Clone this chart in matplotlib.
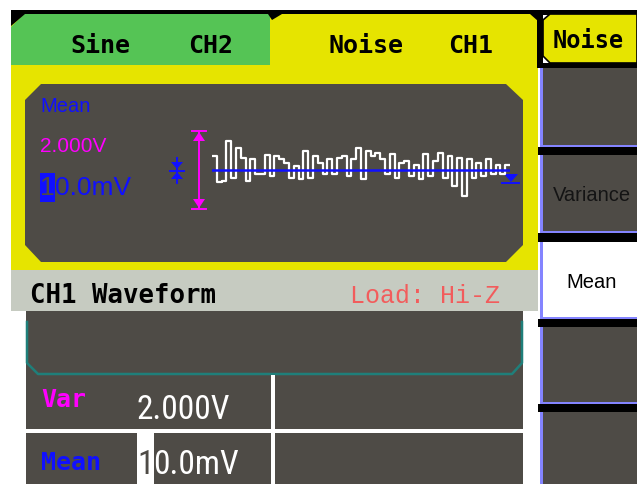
import numpy as np
import matplotlib
matplotlib.use("Agg")
import matplotlib.pyplot as plt
from matplotlib.patches import Polygon, Rectangle
from matplotlib import font_manager as fm

# ---------------- data ----------------
tab_left = ["Sine", "CH2"]
tab_right = ["Noise", "CH1"]
menu_title = "Noise"
menu_items = ["", "Variance", "Mean", "", ""]
screen_labels = ["Mean", "2.000V", "10.0mV"]
param_names = ["Var", "Mean"]
param_values = ["2.000V", "10.0mV"]
status_left = "CH1 Waveform"
status_right = "Load: Hi-Z"
mean_volts = 0.01
# noise samples (V)
noise_values = [0.36, -0.31, -0.28, 0.74, -0.21, 0.56, 0.31, -0.28, 0.28, -0.10,
                -0.10, 0.38, -0.15, 0.36, 0.28, 0.18, -0.21, 0.10, -0.23, 0.49,
                -0.21, 0.36, 0.18, -0.10, 0.28, -0.10, 0.31, 0.36, -0.15, 0.28,
                0.56, -0.23, 0.49, 0.36, 0.44, 0.28, -0.10, 0.41, -0.21, 0.18,
                0.23, -0.15, 0.13, -0.23, 0.41, -0.15, 0.23, 0.44, -0.21, 0.36,
                -0.41, 0.31, -0.67, 0.28, -0.21, 0.18, -0.15, 0.28, -0.10, 0.13,
                -0.10, 0.13]

# ---------------- styles ----------------
YEL = "#e6e400"
GRN = "#55c455"
DARK = "#4e4b46"
GRAY = "#c6cbc1"
TEAL = "#1f7f7a"
MAG = "#ff00ff"
BLUE = "#1010ff"
RED = "#f25c5c"
LAV = "#8484ff"


def has_font(name):
    try:
        fm.findfont(fm.FontProperties(family=name), fallback_to_default=False)
        return True
    except Exception:
        return False


NARROW = None
for cand in ["Liberation Sans Narrow", "DejaVu Sans Condensed", "Roboto Condensed",
             "Open Sans Condensed", "Noto Sans Condensed", "Arial Narrow"]:
    if has_font(cand):
        NARROW = cand
        break
if NARROW is None:
    NARROW, BIG = "Liberation Sans", 20.5
else:
    BIG = 24

MONO = "DejaVu Sans Mono"
SANS = "Liberation Sans"
LMONO = "Liberation Mono"

W, H = 637, 484
fig = plt.figure(figsize=(W / 100, H / 100), dpi=100)
fig.patch.set_facecolor("white")
ax = fig.add_axes([0, 0, 1, 1])
ax.set_xlim(0, W)
ax.set_ylim(H, 0)
ax.axis("off")
renderer = fig.canvas.get_renderer()


def poly(pts, fc, ec="none", lw=0, z=1):
    ax.add_patch(Polygon(pts, closed=True, fc=fc, ec=ec, lw=lw, zorder=z))


def rect(x0, y0, x1, y1, fc, z=1):
    ax.add_patch(Rectangle((x0, y0), x1 - x0, y1 - y0, fc=fc, ec="none", zorder=z))


def text_width(s, **kw):
    t = ax.text(0, 0, s, **kw)
    w = t.get_window_extent(renderer).width
    t.remove()
    return w


def cursor_text(x, y, s, color, cur_color, box_color, box_y, **kw):
    """value text whose first digit is highlighted by a cursor box"""
    full = text_width(s, **kw)
    rest = text_width(s[1:], **kw)
    adv = full - rest
    rect(x, box_y[0], x + adv, box_y[1], box_color, z=4)
    ax.text(x, y, s[0], color=cur_color, zorder=6, **kw)
    ax.text(x + adv, y, s[1:], color=color, zorder=5, **kw)


# top black band
rect(11, 10, 637, 15, "black")
# yellow frame
rect(11, 14, 538, 270, YEL)
# green tab
poly([(11, 27), (24, 14), (270, 14), (270, 65), (11, 65)], GRN, z=2)
poly([(11, 14), (25, 14), (11, 26)], "black", z=2)
poly([(268, 14), (282, 14), (272, 20)], "black", z=2)
poly([(530, 14), (538, 14), (538, 21)], "black", z=2)

# tab texts
ax.text(70, 53, tab_left[0], family=MONO, weight="bold", fontsize=18, color="black", zorder=5)
ax.text(188, 53, tab_left[1], family=MONO, weight="bold", fontsize=18, color="black", zorder=5)
ax.text(329, 53, tab_right[0], family=MONO, weight="bold", fontsize=18, color="black", zorder=5)
ax.text(448, 53, tab_right[1], family=MONO, weight="bold", fontsize=18, color="black", zorder=5)

# inner screen
poly([(41, 84), (506, 84), (523, 100), (523, 245), (506, 262), (41, 262), (25, 245), (25, 100)],
     DARK, z=2)

ax.text(40, 112, screen_labels[0], family=SANS, fontsize=14.5, color=BLUE, zorder=5)
ax.text(40, 152, screen_labels[1], family=SANS, fontsize=15, color=MAG, zorder=5)
cursor_text(40, 195, screen_labels[2], BLUE, DARK, BLUE, (173, 202), family=SANS, fontsize=19)

# blue mean-offset symbol
ax.plot([177, 177], [158, 183], color=BLUE, lw=1.4, zorder=5)
poly([(171, 162), (183, 162), (177, 169)], BLUE, z=5)
poly([(171, 179), (183, 179), (177, 172)], BLUE, z=5)
ax.plot([170, 184], [170.5, 170.5], color=BLUE, lw=1.4, zorder=5)
# magenta amplitude bar
ax.plot([199, 199], [131, 209], color=MAG, lw=1.4, zorder=5)
ax.plot([192, 206], [131, 131], color=MAG, lw=1.4, zorder=5)
ax.plot([192, 206], [209, 209], color=MAG, lw=1.4, zorder=5)
poly([(193, 141), (205, 141), (199, 132)], MAG, z=5)
poly([(193, 199), (205, 199), (199, 208)], MAG, z=5)
# right-end blue marker
poly([(504, 174), (518, 174), (511, 182)], BLUE, z=7)
ax.plot([502, 519], [182.5, 182.5], color=BLUE, lw=1.4, zorder=7)

# waveform inset axes
axw = fig.add_axes([212 / W, 1 - 209 / H, 298 / W, 78 / H])
axw.set_xlim(0, len(noise_values))
axw.set_ylim(-1, 1)
axw.axis("off")
xs = np.arange(len(noise_values) + 1)
ys = noise_values + [noise_values[-1]]
axw.step(xs, ys, where="post", color="white", lw=1.6, zorder=2)
axw.axhline(mean_volts, color=BLUE, lw=1.8, zorder=3)

# gray status bar
rect(11, 270, 538, 311, GRAY)
ax.text(30, 303, status_left, family=MONO, weight="bold", fontsize=18.5, color="black", zorder=5)
ax.text(350, 303, status_right, family=LMONO, fontsize=18, color=RED, zorder=5)

# lower panel
rect(26, 311, 523, 484, DARK)
ax.plot([27, 27, 38, 512, 522, 522], [322, 363, 374, 374, 363, 322], color=TEAL, lw=1.8, zorder=3)
rect(26, 429, 523, 433, "white", z=3)
rect(271, 375, 275, 484, "white", z=3)

ax.text(41, 407, param_names[0], family=MONO, weight="bold", fontsize=18, color=MAG, zorder=5)
ax.text(41, 470, param_names[1], family=MONO, weight="bold", fontsize=18, color=BLUE, zorder=5)
ax.text(137, 419, param_values[0], family=NARROW, fontsize=BIG, color="white", zorder=5)
cursor_text(137, 474, param_values[1], "white", DARK, "white", (433, 484),
            family=NARROW, fontsize=BIG)

# right soft-key menu
rect(537, 10, 543, 68, "black")
rect(537, 63, 637, 68, "black")
poly([(543, 20), (550, 14), (637, 14), (637, 63), (550, 63), (543, 56)], YEL, ec="black", lw=1.2, z=3)
ax.text(553, 48, menu_title, family=MONO, weight="bold", fontsize=17, color="black", zorder=5)

boxes = [(68, 147), (155, 233), (242, 319), (327, 404), (412, 484)]
prev = 68
for (y0, y1), label in zip(boxes, menu_items):
    rect(538, prev, 637, y0, "black", z=2)
    fc = "white" if label == "Mean" else DARK
    rect(540, y0, 637, y1, fc, z=2)
    rect(540, y0, 543, y1, LAV, z=3)
    if y1 < 484:
        rect(540, y1 - 2, 637, y1, LAV, z=3)
    if label:
        tc = "black" if label == "Mean" else "#141414"
        ax.text(592, (y0 + y1) / 2 + 7, label, family=SANS, fontsize=14.5, color=tc,
                ha="center", zorder=5)
    prev = y1

fig.savefig("out.png", dpi=100, facecolor="white")
